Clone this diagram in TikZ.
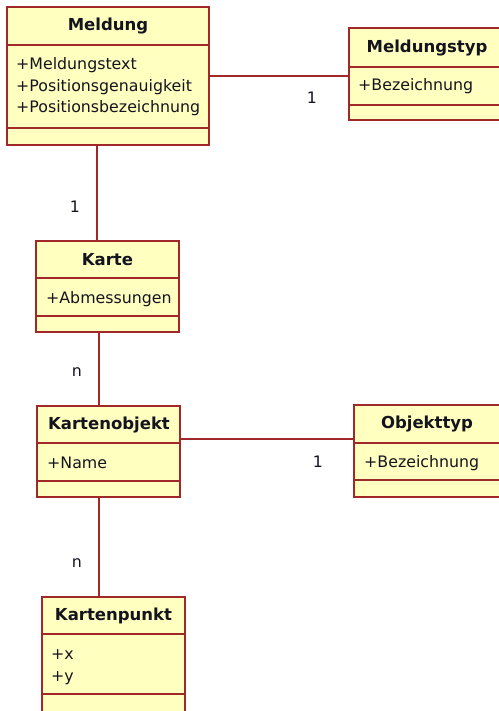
\documentclass[tikz,border=0pt]{standalone}
\usepackage{fontspec}
\setmainfont{DejaVu Sans}
\definecolor{clsfill}{RGB}{255,255,192}
\definecolor{clsdraw}{RGB}{160,40,40}
\definecolor{txt}{RGB}{20,20,30}
\begin{document}
\begin{tikzpicture}[x=1pt,y=-1pt,
 cls/.style={draw=clsdraw, fill=clsfill, line width=1.8pt, inner sep=0pt, outer sep=0pt, anchor=north west, rectangle},
 sep/.style={draw=clsdraw, line width=1.8pt},
 conn/.style={draw=clsdraw, line width=1.5pt},
 title/.style={font=\fontsize{16.5}{19}\selectfont\bfseries, text=txt, inner sep=0pt},
 attr/.style={font=\fontsize{15.8}{21.5}\selectfont, text=txt, inner sep=0pt, anchor=west, align=left},
 mult/.style={font=\fontsize{15.8}{18}\selectfont, text=txt, inner sep=0pt}]
\useasboundingbox (0,0) rectangle (498,711);

% class boxes
\node[cls, minimum width=202pt, minimum height=138pt] (meldung) at (7,7) {};
\node[cls, minimum width=156pt, minimum height=92pt] (typ) at (349,28) {};
\node[cls, minimum width=143pt, minimum height=91pt] (karte) at (36,241) {};
\node[cls, minimum width=143pt, minimum height=91pt] (objekt) at (37,406) {};
\node[cls, minimum width=146pt, minimum height=92pt] (otyp) at (354,405) {};
\node[cls, minimum width=143pt, minimum height=116pt] (punkt) at (42,597) {};

% compartments
\draw[sep] (meldung.west |- 0,45) -- (meldung.east |- 0,45);
\draw[sep] (meldung.west |- 0,128) -- (meldung.east |- 0,128);
\draw[sep] (typ.west |- 0,67) -- (typ.east |- 0,67);
\draw[sep] (typ.west |- 0,105) -- (typ.east |- 0,105);
\draw[sep] (karte.west |- 0,278) -- (karte.east |- 0,278);
\draw[sep] (karte.west |- 0,316) -- (karte.east |- 0,316);
\draw[sep] (objekt.west |- 0,443) -- (objekt.east |- 0,443);
\draw[sep] (objekt.west |- 0,481) -- (objekt.east |- 0,481);
\draw[sep] (otyp.west |- 0,443) -- (otyp.east |- 0,443);
\draw[sep] (otyp.west |- 0,480) -- (otyp.east |- 0,480);
\draw[sep] (punkt.west |- 0,634) -- (punkt.east |- 0,634);
\draw[sep] (punkt.west |- 0,694) -- (punkt.east |- 0,694);

% titles
\node[title] (meldungT) at (108,26) {Meldung};
\node[title] (typT) at (427,48) {Meldungstyp};
\node[title] (karteT) at (107.5,260) {Karte};
\node[title] (objektT) at (109,425) {Kartenobjekt};
\node[title] (otypT) at (427,424) {Objekttyp};
\node[title] (punktT) at (113.5,616) {Kartenpunkt};

% attributes
\node[attr] (meldungA) at (16,87) {+Meldungstext\\+Positionsgenauigkeit\\+Positionsbezeichnung};
\node[attr] (typA) at (358,86) {+Bezeichnung};
\node[attr] (karteA) at (46,299) {+Abmessungen};
\node[attr] (objektA) at (47,463) {+Name};
\node[attr] (otypA) at (364,463) {+Bezeichnung};
\node[attr] (punktA) at (51,667) {+x\\+y};

% connectors
\draw[conn] (meldung.east |- 0,76) -- (typ.west |- 0,76);
\draw[conn] (97,0 |- meldung.south) -- (97,0 |- karte.north);
\draw[conn] (99,0 |- karte.south) -- (99,0 |- objekt.north);
\draw[conn] (objekt.east |- 0,439) -- (otyp.west |- 0,439);
\draw[conn] (99,0 |- objekt.south) -- (99,0 |- punkt.north);

% multiplicities
\node[mult] (m1) at (312,98) {1};
\node[mult] (m2) at (75,207) {1};
\node[mult] (m3) at (77,372) {n};
\node[mult] (m4) at (77,563) {n};
\node[mult] (m5) at (318,462) {1};
\end{tikzpicture}
\end{document}
